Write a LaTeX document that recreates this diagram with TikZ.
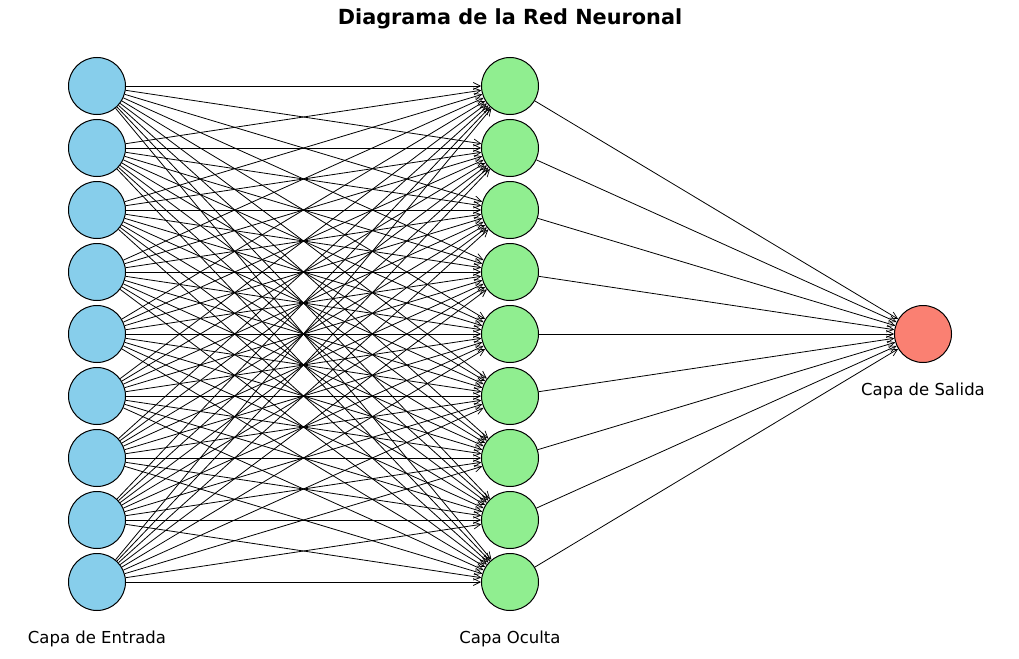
\documentclass[tikz,border=0pt]{standalone}
\usepackage{fontspec}
\setmainfont{DejaVu Sans}
\usetikzlibrary{arrows.meta}
\definecolor{inblue}{HTML}{87CEEB}
\definecolor{hidgreen}{HTML}{90EE90}
\definecolor{outred}{HTML}{FA8072}
\begin{document}
\begin{tikzpicture}[x=1pt,y=-1pt,
  neuron/.style={circle,draw=black,line width=1pt,minimum size=57pt,inner sep=0pt},
  conn/.style={line width=0.8pt,-{Straight Barb[length=7pt,width=7pt,line width=0.7pt]}},
  lbl/.style={font=\fontsize{16.5}{19}\selectfont}]
\useasboundingbox (0,0) rectangle (1019,658);
\foreach \k in {1,...,9}{
  \node[neuron,fill=inblue] (i\k) at (97,{86+62*(\k-1)}) {};
  \node[neuron,fill=hidgreen] (h\k) at (510,{86+62*(\k-1)}) {};
}
\node[neuron,fill=outred] (o) at (923,334) {};
\foreach \a in {1,...,9}{
  \foreach \b in {1,...,9}{
    \draw[conn] (i\a) -- (h\b);
  }
  \draw[conn] (h\a) -- (o);
}
\node[font=\bfseries\fontsize{20.8}{24}\selectfont] (title) at (510,19) {Diagrama de la Red Neuronal};
\node[lbl] (lin) at (97,639) {Capa de Entrada};
\node[lbl] (lhid) at (510,639) {Capa Oculta};
\node[lbl] (lout) at (923,391) {Capa de Salida};
\end{tikzpicture}
\end{document}
